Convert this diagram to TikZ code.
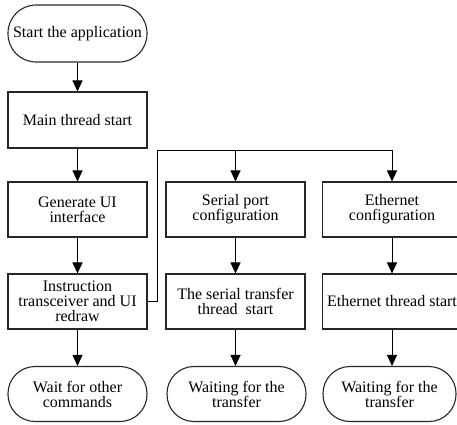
\documentclass[tikz,border=0pt]{standalone}
\usepackage{fontspec}
\setmainfont{Liberation Serif}
\usetikzlibrary{arrows.meta}
\begin{document}
\begin{tikzpicture}[x=1pt,y=-1pt,
  every node/.style={font=\rmfamily\fontsize{16}{15}\selectfont, align=center, inner sep=0pt},
  stepbox/.style={draw=black!85, line width=1.1pt, minimum width=139pt, minimum height=55pt},
  pill/.style={draw=black!85, line width=1.1pt, rounded corners=27pt, minimum width=139pt, minimum height=55pt},
  arr/.style={draw=black, line width=1pt, -{Triangle[length=11pt,width=10pt]}},
  link/.style={draw=black, line width=1pt}]
\useasboundingbox (0,0) rectangle (457,424);
\clip (0,0) rectangle (457,424);

% left column: main thread
\node[pill, minimum height=57pt, rounded corners=28pt] (start) at (77.5,33.5) {Start the application};
\node[stepbox, minimum height=56pt] (main) at (77.5,120) {Main thread start};
\node[stepbox] (gen) at (77.5,209.5) {Generate UI\\interface};
\node[stepbox] (instr) at (77.5,301.5) {Instruction\\transceiver and UI\\redraw};
\node[pill] (waitc) at (77.5,394) {Wait for other\\commands};

% middle column: serial transfer
\node[stepbox] (ser) at (235.5,209.5) {Serial port\\configuration};
\node[stepbox] (serth) at (235.5,301.5) {The serial transfer\\thread\ \ start};
\node[pill] (waits) at (236.5,394) {Waiting for the\\transfer};

% right column: ethernet transfer
\node[stepbox] (eth) at (392,209.5) {Ethernet\\configuration};
\node[stepbox] (ethth) at (392,301.5) {Ethernet thread start};
\node[pill, minimum width=133pt] (waite) at (389.5,394) {Waiting for the\\transfer};

% connectors
\draw[arr] (start) -- (main);
\draw[arr] (main) -- (gen);
\draw[arr] (gen) -- (instr);
\draw[arr] (instr) -- (waitc);

\coordinate (j) at (157,150);
\draw[arr] (instr.east) -- (instr.east -| j) -- (j) -| (eth.north);
\draw[arr] (ser.north |- j) -- (ser.north);
\draw[arr] (ser) -- (serth);
\draw[arr] (serth) -- (waits.north -| serth);
\draw[arr] (eth) -- (ethth);
\draw[arr] (ethth) -- (waite.north -| ethth);
\end{tikzpicture}
\end{document}
